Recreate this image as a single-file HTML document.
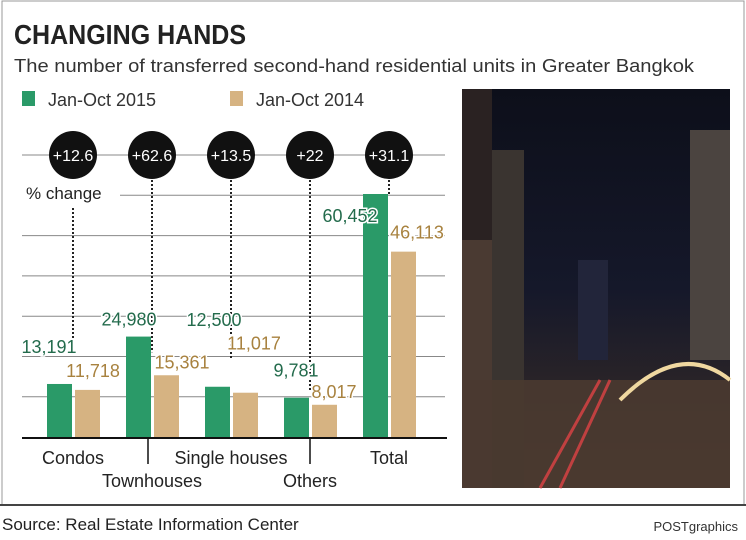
<!DOCTYPE html>
<html><head><meta charset="utf-8"><style>
body{margin:0;background:#fff;}
svg{display:block;font-family:"Liberation Sans",sans-serif;}
</style></head><body>
<svg id="chart" width="746" height="540" viewBox="0 0 746 540">
<defs>
<linearGradient id="sky" x1="0" y1="0" x2="0" y2="1">
<stop offset="0" stop-color="#0d0f1a"/><stop offset="0.5" stop-color="#15182a"/><stop offset="0.75" stop-color="#2a2428"/><stop offset="1" stop-color="#4a3a30"/></linearGradient>
</defs>
<rect x="2" y="1" width="742" height="504" fill="#fff" stroke="#999" stroke-width="1"/>
<text x="14" y="44" font-size="28" font-weight="bold" fill="#222" textLength="232" lengthAdjust="spacingAndGlyphs">CHANGING HANDS</text>
<text x="14" y="72" font-size="18" fill="#333" textLength="680" lengthAdjust="spacingAndGlyphs">The number of transferred second-hand residential units in Greater Bangkok</text>
<rect x="22" y="91" width="13" height="15" fill="#2a9a68"/>
<text x="48" y="106" font-size="18" fill="#333">Jan-Oct 2015</text>
<rect x="230" y="91" width="13" height="15" fill="#d6b382"/>
<text x="256" y="106" font-size="18" fill="#333">Jan-Oct 2014</text>
<g>
<rect x="462" y="89" width="268" height="399" fill="url(#sky)"/>
<rect x="462" y="89" width="30" height="399" fill="#2a2222"/>
<rect x="462" y="240" width="40" height="248" fill="#4a3a32"/>
<rect x="492" y="150" width="32" height="338" fill="#3a3430"/>
<rect x="690" y="130" width="40" height="230" fill="#4b4440"/>
<rect x="578" y="260" width="30" height="100" fill="#22253a"/>
<rect x="462" y="380" width="268" height="108" fill="#4a3a30" opacity="0.9"/>
<path d="M620 400 Q680 340 730 380" stroke="#f0d8a0" stroke-width="4" fill="none"/>
<path d="M540 488 L600 380 M560 488 L610 380" stroke="#c04040" stroke-width="3"/>
</g>
<g id="plot"></g>
<line x1="0" y1="505" x2="746" y2="505" stroke="#444" stroke-width="2"/>
<text x="2" y="530" font-size="17" fill="#222">Source: Real Estate Information Center</text>
<text x="738" y="531" font-size="13" fill="#333" text-anchor="end">POSTgraphics</text>
</svg>
<script>
const categories = ["Condos","Townhouses","Single houses","Others","Total"];
const values2015 = [13191,24980,12500,9781,60452];
const values2014 = [11718,15361,11017,8017,46113];
const changes = ["+12.6","+62.6","+13.5","+22","+31.1"];
// layout offsets for value labels (relative to bar top / bar left)
const lab5dx=[2,3,9,12,-13], lab5dy=[-31,-11,-61,-21,28];
const lab4dx=[18,28,21,22,26], lab4dy=[-13,-7,-43,-7,-13];
const leaderGap=[54,7,7,8,0];
const NS="http://www.w3.org/2000/svg";
const g=document.getElementById('plot');
const base=437, scale=243/60452;
const yv=v=>base-v*scale;
const gx=i=>47+i*79;
function mk(t,a,txt){const e=document.createElementNS(NS,t);for(const k in a)e.setAttribute(k,a[k]);if(txt!==undefined)e.textContent=txt;g.appendChild(e);return e;}
for(let k=0;k<7;k++){const y=155+k*40.3;
const l=mk('line',{x1:22,x2:445,y1:y,y2:y,stroke:'#888','stroke-width':1});

}
const lbl=mk('rect',{x:20,y:180,width:100,height:26,fill:'#fff'});


const pc=mk('text',{x:26,y:199,'font-size':17,fill:'#222'},'% change');


categories.forEach((c,i)=>{
 const x=gx(i), cx=x+26;
 const h5=values2015[i], h4=values2014[i];
 const l5y=yv(h5)+lab5dy[i], l4y=yv(h4)+lab4dy[i];
 const dotTop=i==0?208:180;
 const dotEnd=i==4?yv(h5):Math.max(l5y,l4y)-20+leaderGap[i]*0+ (i==0?-3:i==1?4:i==2?30:i==3?13:0);
 const d=mk('line',{x1:cx,x2:cx,y1:dotTop,y2:dotEnd,stroke:'#222','stroke-width':2,'stroke-dasharray':'2,2'});
 
 
 const b5=mk('rect',{x:x,y:yv(h5),width:25,height:base-yv(h5),fill:'#2a9a68'});
 
 
 const b4=mk('rect',{x:x+28,y:yv(h4),width:25,height:base-yv(h4),fill:'#d6b382'});
 
 
 const t5=mk('text',{x:x+lab5dx[i],y:l5y,'font-size':18,fill:'#236b4c','text-anchor':'middle',stroke:'#fff','stroke-width':3,'paint-order':'stroke'},h5.toLocaleString('en-US'));
 
 
 const t4=mk('text',{x:x+28+lab4dx[i],y:l4y,'font-size':18,fill:'#a8823f','text-anchor':'middle',stroke:'#fff','stroke-width':3,'paint-order':'stroke'},h4.toLocaleString('en-US'));
 
 
 const ci=mk('circle',{cx:cx,cy:155,r:24,fill:'#111'});
 
 
 const ct=mk('text',{x:cx,y:161,'font-size':16,fill:'#fff','text-anchor':'middle'},changes[i]);
 
 
 const cl=mk('text',{x:cx,y:i%2==1?487:464,'font-size':18,fill:'#222','text-anchor':'middle'},c);
 
 
});
const ax=mk('line',{x1:22,x2:447,y1:base+1,y2:base+1,stroke:'#111','stroke-width':2});


[148,310].forEach(x=>{const t=mk('line',{x1:x,x2:x,y1:base,y2:464,stroke:'#111','stroke-width':1.5});

});
</script>
</body></html>
